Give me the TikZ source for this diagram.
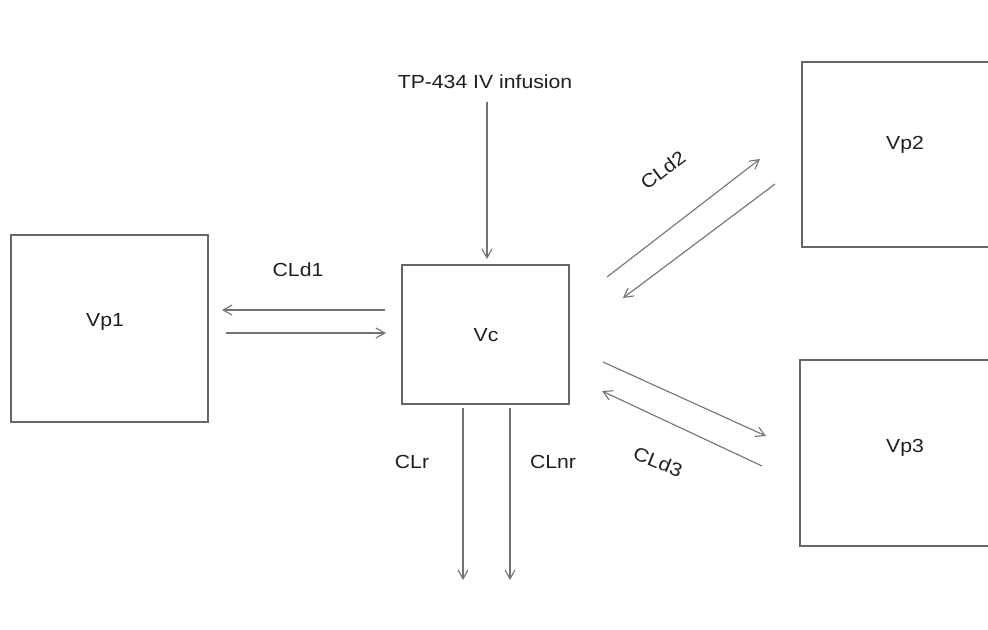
\documentclass[tikz,border=0pt]{standalone}
\usepackage{fontspec}
\setmainfont{Liberation Sans}
\usetikzlibrary{arrows.meta}
\newcommand{\wide}[1]{\scalebox{1.12}[1]{#1}}
\tikzset{
  box/.style={draw=black!60, line width=1.2bp, inner sep=0pt},
  lbl/.style={text=black!88, font=\fontsize{19}{21}\selectfont, inner sep=0pt},
  flow/.style={draw=black!55, line width=1.1bp, -{Straight Barb[length=9bp,width=10bp]}},
}
\begin{document}
\begin{tikzpicture}[x=1bp,y=-1bp]
\useasboundingbox (0,0) rectangle (988,630);
\clip (0,0) rectangle (988,630);
\fill[white] (0,0) rectangle (988,630);
% boxes
\node[box, minimum width=197bp, minimum height=187bp] (vp1) at (109.5,328.5) {};
\node[box, minimum width=167bp, minimum height=139bp] (vc) at (485.5,334.5) {};
\node[box, minimum width=210bp, minimum height=185bp] (vp2) at (907,154.5) {};
\node[box, minimum width=210bp, minimum height=186bp] (vp3) at (905,453) {};
% box labels
\node[lbl] (tvp1) at (105,322) {\wide{Vp1}};
\node[lbl] (tvc) at (486,335) {\wide{Vc}};
\node[lbl] (tvp2) at (905,145) {\wide{Vp2}};
\node[lbl] (tvp3) at (905,448) {\wide{Vp3}};
% infusion
\node[lbl] (inf) at (485,82) {\wide{TP-434 IV infusion}};
\coordinate (infs) at (487,102);
\coordinate (infe) at (487,259);
\draw[flow] (infs) -- (infe);
% CLd1
\node[lbl] (cld1) at (298,270) {\wide{CLd1}};
\coordinate (a1s) at (385,310); \coordinate (a1e) at (222,310);
\coordinate (b1s) at (226,333); \coordinate (b1e) at (386,333);
\draw[flow] (a1s) -- (a1e);
\draw[flow] (b1s) -- (b1e);
% CLd2
\node[lbl, rotate=37] (cld2) at (663,170) {\wide{CLd2}};
\coordinate (a2s) at (607,277); \coordinate (a2e) at (760,159);
\coordinate (b2s) at (775,184); \coordinate (b2e) at (623,298);
\draw[flow] (a2s) -- (a2e);
\draw[flow] (b2s) -- (b2e);
% CLd3
\node[lbl, rotate=-22] (cld3) at (658,462) {\wide{CLd3}};
\coordinate (a3s) at (603,362); \coordinate (a3e) at (766,436);
\coordinate (b3s) at (762,466); \coordinate (b3e) at (602,391);
\draw[flow] (a3s) -- (a3e);
\draw[flow] (b3s) -- (b3e);
% elimination
\coordinate (rs) at (463,408); \coordinate (re) at (463,580);
\coordinate (nrs) at (510,408); \coordinate (nre) at (510,580);
\draw[flow] (rs) -- (re);
\draw[flow] (nrs) -- (nre);
\node[lbl] (clr) at (412,462) {\wide{CLr}};
\node[lbl] (clnr) at (553,462) {\wide{CLnr}};
\end{tikzpicture}
\end{document}
